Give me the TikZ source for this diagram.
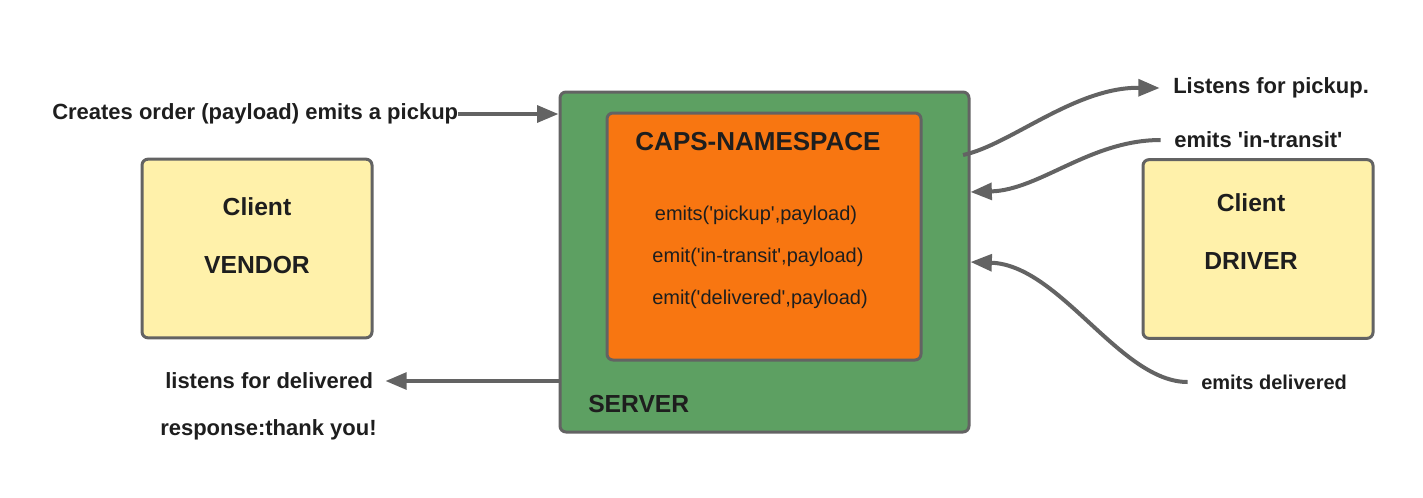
\documentclass[tikz,border=0pt]{standalone}
\usepackage{fontspec}
\setmainfont{Liberation Sans}
\usetikzlibrary{arrows.meta,positioning}

\definecolor{servergreen}{RGB}{93,160,98}
\definecolor{nsorange}{RGB}{248,118,17}
\definecolor{clientyellow}{RGB}{255,241,170}
\definecolor{edgegray}{RGB}{99,99,99}
\definecolor{inkdark}{RGB}{30,30,30}
\newcommand{\sqt}{\textquotesingle}

\begin{document}
\begin{tikzpicture}[
  x=0.75pt, y=-0.75pt,
  box/.style = {shape=rectangle, rounded corners=4.5pt, draw=edgegray, line width=2.25pt},
  clientbox/.style = {box, fill=clientyellow, minimum width=172.5pt, minimum height=134pt},
  boxtext/.style = {font=\bfseries\fontsize{18.5}{21}\selectfont, text=inkdark, inner sep=0pt},
  note/.style = {font=\bfseries\fontsize{16.5}{19}\selectfont, text=inkdark, inner sep=0pt, anchor=west},
  call/.style = {font=\fontsize{15}{18}\selectfont, text=inkdark, inner sep=0pt},
  flow/.style = {draw=edgegray, line width=3pt, -{Triangle[length=16pt,width=12.5pt]}}
  ]
  \useasboundingbox (0,0) rectangle (1423,497);

  \node[box, fill=servergreen, minimum width=306.75pt, minimum height=255pt] (server) at (764.5,262) {};
  \node[box, fill=nsorange, minimum width=235.5pt, minimum height=185.25pt] (ns) at (764,236.5) {};
  \node[boxtext, font=\bfseries\fontsize{19.5}{22}\selectfont] (nstitle) at (758,142) {CAPS-NAMESPACE};
  \node[call] (pickupcall) at (756,215) {emits(\sqt pickup\sqt,payload)};
  \node[call] (transitcall) at (758,257) {emit(\sqt in-transit\sqt,payload)};
  \node[call] (deliveredcall) at (760,299) {emit(\sqt delivered\sqt,payload)};
  \node[boxtext, anchor=west] (servername) at (588,404) {SERVER};

  \node[clientbox] (vendor) at (257,248.5) {};
  \node[boxtext] (vendortop) at (257,207) {Client};
  \node[boxtext] (vendorname) at (257,265) {VENDOR};

  \node[clientbox] (driver) at (1258,249) {};
  \node[boxtext] (drivertop) at (1251,203) {Client};
  \node[boxtext] (drivername) at (1251,261) {DRIVER};

  \node[note] (create) at (52,114) {Creates order (payload) emits a pickup};
  \node[note] (listen) at (165,381) {listens for delivered};
  \node[note] (response) at (160,430) {response:thank you!};
  \node[note] (pickup) at (1173,88) {Listens for pickup.};
  \node[note] (transit) at (1174,140) {emits \sqt in-transit\sqt};
  \node[note, font=\bfseries\fontsize{15}{18}\selectfont] (delivered) at (1201,382) {emits delivered};

  \coordinate (pickupout) at (963,155);

  \draw[flow] (create.east) -- (create.east -| server.west);
  \draw[flow] (server.west |- listen.east) -- ([xshift=9pt]listen.east);
  \draw[flow] (pickupout) .. controls (1010,145) and (1075,87) .. ([xshift=-10pt]pickup.west);
  \draw[flow] ([xshift=-10pt]transit.west) .. controls (1090,140) and (1040,190) .. (server.east |- 0,192);
  \draw[flow] ([xshift=-10pt]delivered.west) .. controls (1120,382) and (1060,265) .. (server.east |- 0,262);
\end{tikzpicture}
\end{document}
